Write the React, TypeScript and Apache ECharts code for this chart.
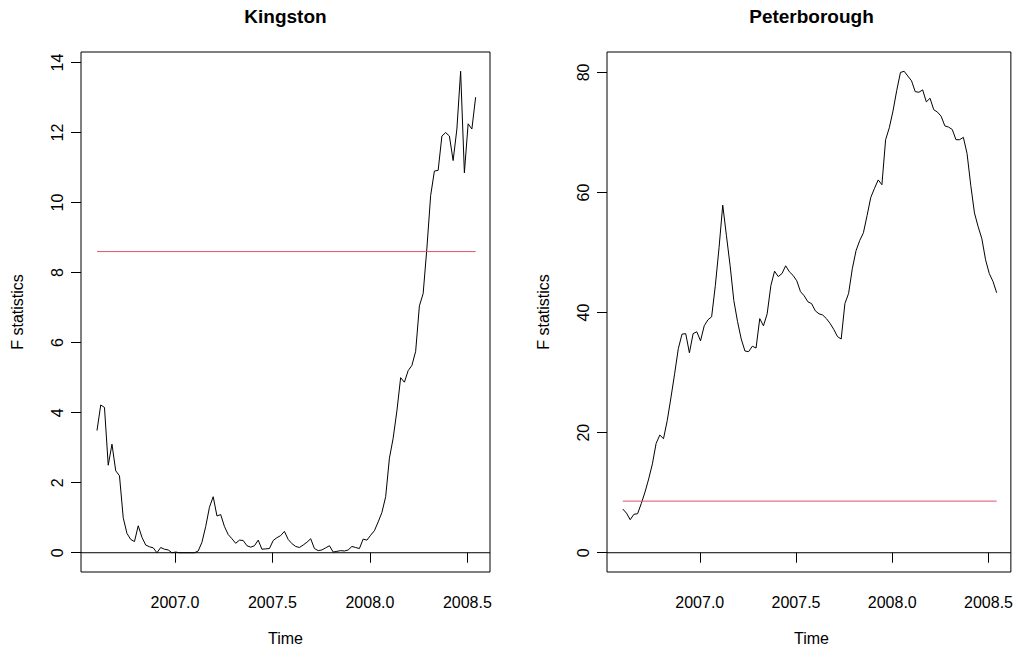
import React, { useEffect, useRef } from "react";
import * as echarts from "echarts";

// Weekly series (ts start ~2006.6, frequency 52)
const START = 2006.6;
const FREQ = 52;

const kingstonF = [
  3.49, 4.22, 4.15, 2.5, 3.1, 2.34, 2.2, 1.0, 0.55, 0.38,
  0.32, 0.77, 0.44, 0.22, 0.17, 0.14, 0.0, 0.15, 0.1, 0.08,
  0.0, 0.02, 0.0, 0.0, 0.0, 0.0, 0.0, 0.05, 0.3, 0.75,
  1.3, 1.6, 1.05, 1.09, 0.75, 0.52, 0.4, 0.27, 0.36, 0.35,
  0.2, 0.16, 0.2, 0.36, 0.1, 0.11, 0.12, 0.35, 0.43, 0.49,
  0.61, 0.38, 0.26, 0.18, 0.15, 0.22, 0.3, 0.4, 0.12, 0.06,
  0.08, 0.14, 0.2, 0.02, 0.04, 0.06, 0.05, 0.08, 0.18, 0.15,
  0.12, 0.39, 0.36, 0.5, 0.63, 0.88, 1.15, 1.6, 2.7, 3.27,
  4.05, 5.0, 4.87, 5.2, 5.35, 5.75, 7.05, 7.4, 8.7, 10.2,
  10.9, 10.92, 11.9, 12.0, 11.9, 11.2, 12.1, 13.75, 10.85, 12.25,
  12.1, 13.01,
];

const peterboroughF = [
  7.28, 6.6, 5.5, 6.4, 6.5, 8.2, 10.1, 12.3, 14.8, 18.2,
  19.6, 19.0, 22.0, 25.8, 29.8, 34.0, 36.4, 36.5, 33.3, 36.5,
  36.8, 35.3, 37.8, 38.8, 39.3, 44.5, 50.8, 57.9, 52.8, 47.8,
  42.0, 38.5, 35.6, 33.6, 33.5, 34.4, 34.1, 39.0, 37.8, 39.8,
  44.5, 46.9, 46.0, 46.5, 47.8, 46.8, 46.2, 45.3, 43.5, 42.8,
  41.8, 41.5, 40.3, 39.8, 39.6, 39.0, 38.2, 37.2, 36.0, 35.6,
  41.5, 43.2, 47.3, 50.3, 52.0, 53.3, 56.2, 59.2, 60.7, 62.1,
  61.3, 68.8, 70.8, 73.6, 77.0, 80.0, 80.2, 79.4, 78.6, 76.8,
  76.7, 77.1, 75.1, 75.7, 73.8, 73.4, 72.7, 71.1, 70.9, 70.5,
  68.8, 68.8, 69.2, 66.5, 61.2, 56.6, 54.3, 52.3, 48.8, 46.5,
  45.2, 43.3,
];

const boundaryKingston = 8.6;
const boundaryPeterborough = 8.6;

const panelTitles = ["Kingston", "Peterborough"];
const xTicks = [2007, 2007.5, 2008, 2008.5];
const yTicksKingston = [0, 2, 4, 6, 8, 10, 12, 14];
const yTicksPeterborough = [0, 20, 40, 60, 80];

const FONT = '"Liberation Sans", Arial, Helvetica, sans-serif';

function toPairs(vals: number[]) {
  return vals.map((v, i) => [START + i / FREQ, v]);
}

export default function App() {
  const ref = useRef<HTMLDivElement>(null);

  useEffect(() => {
    if (!ref.current) return;
    const chart = echarts.init(ref.current, undefined, { renderer: "svg" });

    const tStart = START;
    const tEnd = START + (kingstonF.length - 1) / FREQ;
    const XMIN = 2006.518;
    const XMAX = 2008.616;

    const kMax = Math.max(...kingstonF, boundaryKingston);
    const pMax = Math.max(...peterboroughF, boundaryPeterborough);
    const yK = [0 - 0.04 * kMax, kMax + 0.04 * kMax];
    const yP = [0 - 0.04 * pMax, pMax + 0.04 * pMax];

    const grids = [
      { left: 81, top: 52, width: 409, height: 520 },
      { left: 607, top: 52, width: 410, height: 520 },
    ];

    const xAxis = grids.map((_, gi) => ({
      type: "value",
      gridIndex: gi,
      min: XMIN,
      max: XMAX,
      axisLine: { show: false },
      splitLine: { show: false },
      axisTick: {
        show: true,
        length: 10,
        customValues: xTicks,
        lineStyle: { color: "#000", width: 1 },
      },
      axisLabel: {
        customValues: xTicks,
        formatter: (v: number) => v.toFixed(1),
        fontSize: 16,
        color: "#000",
        fontFamily: FONT,
        margin: 22,
      },
    }));

    const yAxis = [
      { ticks: yTicksKingston, range: yK },
      { ticks: yTicksPeterborough, range: yP },
    ].map((a, gi) => ({
      type: "value",
      gridIndex: gi,
      min: a.range[0],
      max: a.range[1],
      axisLine: { show: false },
      splitLine: { show: false },
      axisTick: {
        show: true,
        length: 10,
        customValues: a.ticks,
        lineStyle: { color: "#000", width: 1 },
      },
      axisLabel: {
        customValues: a.ticks,
        formatter: (v: number) => String(v),
        rotate: 90,
        fontSize: 16,
        color: "#000",
        fontFamily: FONT,
        margin: 16,
      },
    }));

    const lineSeries = (data: number[][], gi: number, color: string) => ({
      type: "line",
      xAxisIndex: gi,
      yAxisIndex: gi,
      data,
      showSymbol: false,
      symbol: "none",
      silent: true,
      lineStyle: { color, width: 1 },
    });

    const series = [
      lineSeries([[XMIN, 0], [XMAX, 0]], 0, "#000"),
      lineSeries(toPairs(kingstonF), 0, "#000"),
      lineSeries([[tStart, boundaryKingston], [tEnd, boundaryKingston]], 0, "#DF536B"),
      lineSeries([[XMIN, 0], [XMAX, 0]], 1, "#000"),
      lineSeries(toPairs(peterboroughF), 1, "#000"),
      lineSeries([[tStart, boundaryPeterborough], [tEnd, boundaryPeterborough]], 1, "#DF536B"),
    ];

    const centers = [81 + 409 / 2, 607 + 409 / 2];
    const yNameX = [17.5, 543.5];
    const graphic: any[] = [];
    centers.forEach((cx, i) => {
      graphic.push({
        type: "text",
        x: cx,
        y: 16,
        style: {
          text: panelTitles[i],
          font: `bold 19px ${FONT}`,
          fill: "#000",
          textAlign: "center",
          textVerticalAlign: "middle",
        },
      });
      graphic.push({
        type: "text",
        x: cx,
        y: 638,
        style: {
          text: "Time",
          font: `16px ${FONT}`,
          fill: "#000",
          textAlign: "center",
          textVerticalAlign: "middle",
        },
      });
      graphic.push({
        type: "text",
        x: yNameX[i],
        y: 312,
        rotation: Math.PI / 2,
        style: {
          text: "F statistics",
          font: `16px ${FONT}`,
          fill: "#000",
          textAlign: "center",
          textVerticalAlign: "middle",
        },
      });
    });

    chart.setOption({
      animation: false,
      backgroundColor: "#fff",
      grid: grids.map((g) => ({
        ...g,
        show: true,
        borderColor: "#000",
        borderWidth: 1,
        backgroundColor: "transparent",
        containLabel: false,
      })),
      xAxis,
      yAxis,
      series,
      graphic,
    });

    return () => chart.dispose();
  }, []);

  return (
    <div
      ref={ref}
      style={{ position: "absolute", left: 0, top: 0, width: 1016, height: 648, background: "#fff" }}
    />
  );
}
